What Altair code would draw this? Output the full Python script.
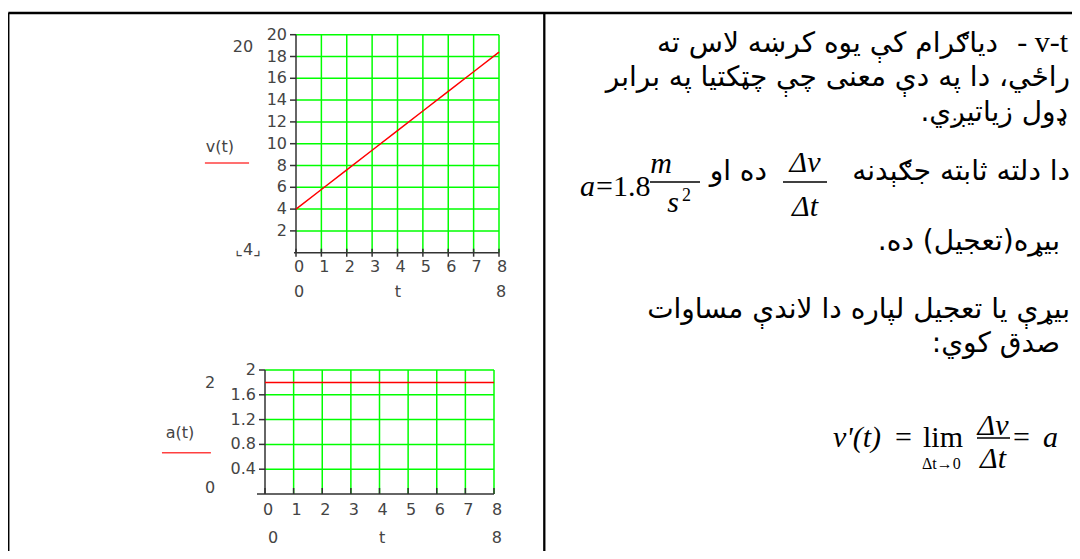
import altair as alt
import pandas as pd

# ---------------- data ----------------
t_vals = [0, 1, 2, 3, 4, 5, 6, 7, 8]
v_vals = [4.0, 5.8, 7.6, 9.4, 11.2, 13.0, 14.8, 16.6, 18.4]
a_vals = [1.8, 1.8, 1.8, 1.8, 1.8, 1.8, 1.8, 1.8, 1.8]

t_ticks = [0, 1, 2, 3, 4, 5, 6, 7, 8]
t_tick_labels = ["0", "1", "2", "3", "4", "5", "6", "7", "8"]
v_ticks = [2, 4, 6, 8, 10, 12, 14, 16, 18, 20]
v_tick_labels = ["2", "4", "6", "8", "10", "12", "14", "16", "18", "20"]
a_ticks = [0.4, 0.8, 1.2, 1.6, 2.0]
a_tick_labels = ["0.4", "0.8", "1.2", "1.6", "2"]

# Mathcad-style outer labels (limits, axis name, legend), in data units
v_outer_text = ["20", "v(t)", "⌞4⌟", "0", "t", "8"]
v_outer_x = [-2.09, -3.0, -1.89, 0.12, 4.02, 8.08]
v_outer_y = [18.87, 9.7, 0.25, -3.6, -3.6, -3.6]
a_outer_text = ["2", "a(t)", "0", "0", "t", "8"]
a_outer_x = [-1.92, -2.97, -1.92, 0.28, 4.09, 8.10]
a_outer_y = [1.79, 0.98, 0.097, -0.71, -0.71, -0.71]

RLM = "\u200f"
ar_text = [
    "دیاګرام  کې یوه کرښه لاس ته",
    "راځي، دا په دې معنی چې چټکتیا په برابر",
    RLM + "ډول زیاتیږي." + RLM,
    "دا دلته ثابته جګېدنه",
    "ده او",
    RLM + "بیړه(تعجیل) ده." + RLM,
    "بیړې یا تعجیل لپاره دا لاندې مساوات",
    RLM + "صدق کوي:" + RLM,
]
ar_x = [998, 1070, 1068, 1070, 767, 1060, 1070, 1060]
ar_y = [52, 86, 121, 180, 180, 250, 318, 352]

# math pieces (page pixel positions of text anchors)
m_left_text = ["a", "v'(t)", "a"]
m_left_x = [580, 833, 1043]
m_left_y = [196, 447, 447]
m_roman_text = ["- v-t", "=1.8", "=", "lim", "="]
m_roman_x = [1068, 596, 895, 923, 1013]
m_roman_y = [52, 196, 447, 447, 447]
m_roman_align = ["right", "left", "left", "left", "left"]
m_frac_text = ["m", "s", "Δv", "Δt", "Δv", "Δt"]
m_frac_x = [661, 673, 805, 805, 993, 993]
m_frac_y = [173, 212, 172, 216, 435, 468]
m_small_text = ["2", "Δt→0"]
m_small_x = [682, 922]
m_small_y = [201, 469]
m_small_size = [18, 16]
bar_x0 = [650, 783, 977]
bar_x1 = [700, 827, 1010]
bar_y = [182, 182, 438]

GREEN = "#00ff00"
AX = "#333333"
LAB = "#444444"
SANS = "DejaVu Sans"
SERIF = "Liberation Serif"


def plot(xs, ys, yticks, ylabels, series, otext, ox, oy, ul_x0, ul_x1, ul_y,
         xaxis_start, xtick_size, xtick_off, xlab_dy):
    sx = alt.Scale(domain=xs[0], range=xs[1], nice=False, zero=False)
    sy = alt.Scale(domain=ys[0], range=ys[1], nice=False, zero=False)

    def X(f):
        return alt.X(f, type="quantitative", scale=sx, axis=None)

    def Y(f):
        return alt.Y(f, type="quantitative", scale=sy, axis=None)

    ymin, ymax = ys[0]
    xmin, xmax = xs[0]
    vgrid = alt.Chart(pd.DataFrame({"x": t_ticks[1:], "y0": ymin, "y1": ymax})).mark_rule(
        color=GREEN, strokeWidth=1.5).encode(x=X("x"), y=Y("y0"), y2="y1")
    hgrid = alt.Chart(pd.DataFrame({"y": yticks, "x0": xmin, "x1": xmax})).mark_rule(
        color=GREEN, strokeWidth=1.5).encode(y=Y("y"), x=X("x0"), x2="x1")
    xaxis = alt.Chart(pd.DataFrame({"x0": [xaxis_start], "x1": [xmax], "y": [ymin]})).mark_rule(
        color=AX, strokeWidth=1.5).encode(y=Y("y"), x=X("x0"), x2="x1")
    yaxis = alt.Chart(pd.DataFrame({"x": [xmin], "y0": [ymin], "y1": [ymax]})).mark_rule(
        color=AX, strokeWidth=1.5).encode(x=X("x"), y=Y("y0"), y2="y1")
    xt = alt.Chart(pd.DataFrame({"x": t_ticks, "y": ymin})).mark_tick(
        orient="vertical", size=xtick_size, thickness=1.5, color=AX, yOffset=xtick_off,
        opacity=1).encode(x=X("x"), y=Y("y"))
    yt = alt.Chart(pd.DataFrame({"y": yticks, "x": xmin})).mark_tick(
        orient="horizontal", size=6, thickness=1.5, color=AX, xOffset=-3,
        opacity=1).encode(x=X("x"), y=Y("y"))
    ylab = alt.Chart(pd.DataFrame({"y": yticks, "x": xmin, "l": ylabels})).mark_text(
        align="right", baseline="middle", dx=-9, font=SANS, fontSize=16, color=LAB).encode(
        x=X("x"), y=Y("y"), text="l:N")
    xlab = alt.Chart(pd.DataFrame({"x": t_ticks, "y": ymin, "l": t_tick_labels})).mark_text(
        align="center", baseline="top", dx=3, dy=xlab_dy, font=SANS, fontSize=16, color=LAB).encode(
        x=X("x"), y=Y("y"), text="l:N")
    line = alt.Chart(pd.DataFrame({"t": t_vals, "val": series})).mark_line(
        color="#ff0000", strokeWidth=1.5).encode(x=X("t"), y=Y("val"))
    outer = alt.Chart(pd.DataFrame({"x": ox, "y": oy, "l": otext})).mark_text(
        align="center", baseline="middle", font=SANS, fontSize=16, color=LAB).encode(
        x=X("x"), y=Y("y"), text="l:N")
    ul = alt.Chart(pd.DataFrame({"x0": [ul_x0], "x1": [ul_x1], "y": [ul_y]})).mark_rule(
        color="#ff4040", strokeWidth=1.5).encode(y=Y("y"), x=X("x0"), x2="x1")
    return alt.layer(vgrid, hgrid, xaxis, yaxis, xt, yt, ylab, xlab, line, outer, ul)


top = plot(([0, 8], [288, 491]), ([0, 20], [244.7, 26.7]), v_ticks, v_tick_labels, v_vals,
           v_outer_text, v_outer_x, v_outer_y, -3.59, -1.85, 8.23,
           -0.08, 8, 0, 6)
bottom = plot(([0, 8], [257, 486]), ([0, 2], [486, 362]), a_ticks, a_tick_labels, a_vals,
              a_outer_text, a_outer_x, a_outer_y, -3.6, -1.89, 0.666,
              -0.28, 6, -3, 8)

# ---------------- right panel & table (page pixel coordinates) ----------------
PX = alt.Scale(domain=[8, 1072], range=[0, 1064], nice=False, zero=False)
PY = alt.Scale(domain=[8, 551], range=[0, 543], nice=False, zero=False)


def PXe(f):
    return alt.X(f, type="quantitative", scale=PX, axis=None)


def PYe(f):
    return alt.Y(f, type="quantitative", scale=PY, axis=None)


borders = alt.Chart(pd.DataFrame({
    "x0": [8.3, 8.3, 544.3], "x1": [1072, 8.3, 544.3],
    "y0": [13, 13, 13], "y1": [13, 551, 551]})).mark_rule(
    color="#000000", strokeWidth=2.3).encode(x=PXe("x0"), x2="x1", y=PYe("y0"), y2="y1")

arabic = alt.Chart(pd.DataFrame({"x": ar_x, "y": ar_y, "s": ar_text})).mark_text(
    align="right", baseline="alphabetic", font=SANS, fontSize=28, color="#000000").encode(
    x=PXe("x"), y=PYe("y"), text="s:N")

m_it = alt.Chart(pd.DataFrame({"x": m_left_x, "y": m_left_y, "s": m_left_text})).mark_text(
    align="left", baseline="alphabetic", font=SERIF, fontStyle="italic", fontSize=30,
    color="#000000").encode(x=PXe("x"), y=PYe("y"), text="s:N")

rom_df = pd.DataFrame({"x": m_roman_x, "y": m_roman_y, "s": m_roman_text, "al": m_roman_align})
m_rom_r = alt.Chart(rom_df[rom_df.al == "right"]).mark_text(
    align="right", baseline="alphabetic", font=SERIF, fontSize=30, color="#000000").encode(
    x=PXe("x"), y=PYe("y"), text="s:N")
m_rom_l = alt.Chart(rom_df[rom_df.al == "left"]).mark_text(
    align="left", baseline="alphabetic", font=SERIF, fontSize=30, color="#000000").encode(
    x=PXe("x"), y=PYe("y"), text="s:N")

m_frac = alt.Chart(pd.DataFrame({"x": m_frac_x, "y": m_frac_y, "s": m_frac_text})).mark_text(
    align="center", baseline="alphabetic", font=SERIF, fontStyle="italic", fontSize=30,
    color="#000000").encode(x=PXe("x"), y=PYe("y"), text="s:N")

m_small = alt.Chart(pd.DataFrame({"x": m_small_x, "y": m_small_y, "s": m_small_text,
                                  "fs": m_small_size})).mark_text(
    align="left", baseline="alphabetic", font=SERIF, color="#000000").encode(
    x=PXe("x"), y=PYe("y"), text="s:N", size=alt.Size("fs:Q", scale=None))

bars = alt.Chart(pd.DataFrame({"x0": bar_x0, "x1": bar_x1, "y": bar_y})).mark_rule(
    color="#000000", strokeWidth=1.5).encode(x=PXe("x0"), x2="x1", y=PYe("y"))

panel = alt.layer(borders, arabic, m_it, m_rom_r, m_rom_l, m_frac, m_small, bars)

chart = alt.layer(top, bottom, panel).resolve_scale(
    x="independent", y="independent"
).properties(
    width=1064, height=543, padding=0,
    autosize=alt.AutoSizeParams(type="none"),
    background="#ffffff",
).configure_view(stroke=None)

chart.save("out.html", embed_options={"renderer": "svg", "actions": False})
